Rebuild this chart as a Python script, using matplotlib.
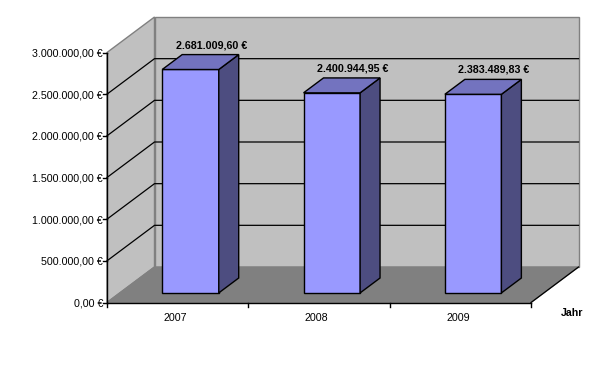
import matplotlib
matplotlib.use("Agg")
from matplotlib import pyplot as plt
from matplotlib.patches import Polygon

years = ["2007", "2008", "2009"]
values = [2681009.60, 2400944.95, 2383489.83]
value_labels = ["2.681.009,60 €", "2.400.944,95 €", "2.383.489,83 €"]
ticks = [0, 500000, 1000000, 1500000, 2000000, 2500000, 3000000]
tick_labels = ["0,00 €", "500.000,00 €", "1.000.000,00 €", "1.500.000,00 €",
               "2.000.000,00 €", "2.500.000,00 €", "3.000.000,00 €"]
ymax = 3000000

plt.rcParams['font.family'] = ['Liberation Sans', 'DejaVu Sans']
fig = plt.figure(figsize=(6.04, 3.68), dpi=100)
ax = fig.add_axes([0, 0, 1, 1])
ax.set_xlim(0, 604)
ax.set_ylim(368, 0)
ax.axis('off')

# front-left corner of the floor, size of the plot in pixels
x0, y0 = 107, 302.5
w, h = 424, 250
dx, dy = 47.5, -35.5


def pr(cat, val, depth):
    # cat in category units, val in euro, depth 0..1
    return (x0 + cat * w / len(years) + depth * dx,
            y0 - val / ymax * h + depth * dy)


def face(pts, color, edge='black', lw=1.0, z=2):
    ax.add_patch(Polygon(pts, closed=True, facecolor=color, edgecolor=edge,
                         linewidth=lw, zorder=z, joinstyle='miter'))


n = len(years)
# walls and floor
face([pr(0, 0, 0), pr(0, ymax, 0), pr(0, ymax, 1), pr(0, 0, 1)], '#c0c0c0', '#808080', 1.0, 1)
face([pr(0, 0, 1), pr(0, ymax, 1), pr(n, ymax, 1), pr(n, 0, 1)], '#c0c0c0', '#808080', 1.0, 1)
face([pr(0, 0, 0), pr(0, 0, 1), pr(n, 0, 1), pr(n, 0, 0)], '#808080', '#808080', 1.0, 1)

# gridlines, none at the top edge
for t in ticks[1:-1]:
    a, b, c = pr(0, t, 0), pr(0, t, 1), pr(n, t, 1)
    ax.plot([a[0], b[0], c[0]], [a[1], b[1], c[1]], color='black', lw=0.9, zorder=1.5)

# axes with ticks
ax.plot(*zip(pr(0, 0, 0), pr(0, ymax, 0)), color='black', lw=1.0, zorder=3)
ax.plot(*zip(pr(0, 0, 0), pr(n, 0, 0)), color='black', lw=1.0, zorder=3)
ax.plot(*zip(pr(n, 0, 0), pr(n, 0, 1)), color='black', lw=0.9, zorder=3)
for t, lab in zip(ticks, tick_labels):
    x, y = pr(0, t, 0)
    ax.plot([x - 4, x], [y, y], color='black', lw=1.0, zorder=3)
    ax.text(x - 4, y + 1, lab, ha='right', va='center', fontsize=7.7, color='black')
for i in range(n + 1):
    x, y = pr(i, 0, 0)
    ax.plot([x, x], [y, y + 4], color='black', lw=1.0, zorder=3)

# bars
half = 0.2
d1, d2 = 0.27, 0.69
for i, (yr, v, lab) in enumerate(zip(years, values, value_labels)):
    c = i + 0.5
    l, r = c - half, c + half
    face([pr(l, 0, d1), pr(r, 0, d1), pr(r, v, d1), pr(l, v, d1)], '#9999ff')
    face([pr(r, 0, d1), pr(r, 0, d2), pr(r, v, d2), pr(r, v, d1)], '#4d4d80')
    face([pr(l, v, d1), pr(r, v, d1), pr(r, v, d2), pr(l, v, d2)], '#7373bf')
    tx, ty = pr(c, v, d2)
    ax.text(tx + 1, ty - 9.5, lab, ha='center', va='center', fontsize=7.7,
            fontweight='bold', color='black', zorder=4)
    bx, by = pr(c, 0, 0)
    ax.text(bx - 2.5, by + 15.5, yr, ha='center', va='center', fontsize=7.7, color='black')

ax.text(572.5, 312.5, "Jahr", ha='center', va='center', fontsize=7.7, fontweight='bold', color='black')

fig.savefig('out.png', dpi=100)
